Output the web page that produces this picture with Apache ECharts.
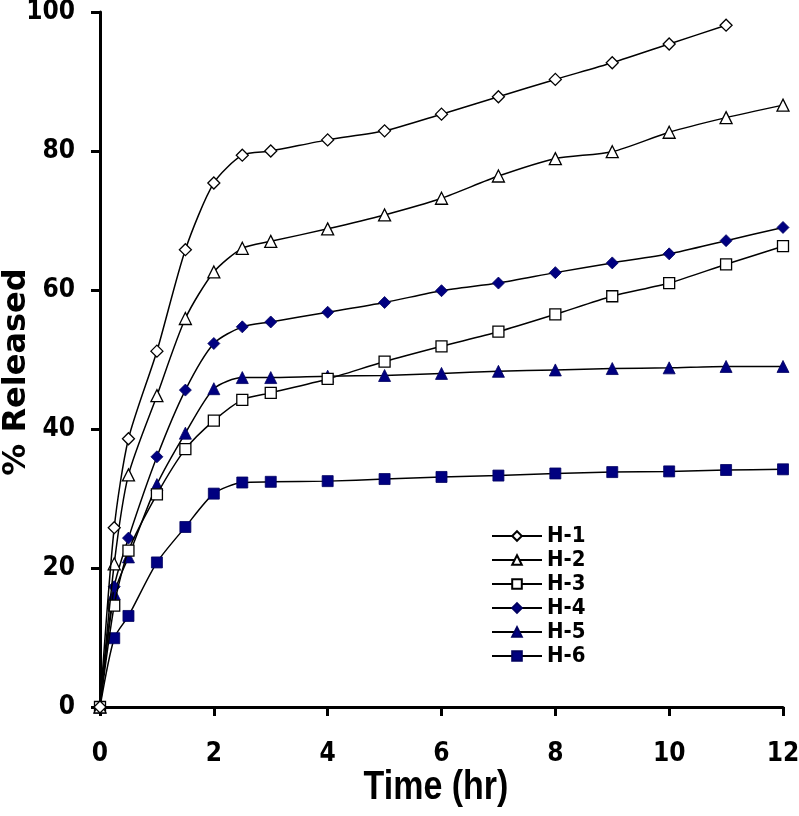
<!DOCTYPE html>
<html><head><meta charset="utf-8">
<script src="https://cdn.jsdelivr.net/npm/echarts@6/dist/echarts.min.js"></script>
<style>html,body{margin:0;padding:0;background:#fff}#c{width:799px;height:816px}</style>
</head><body><div id="c"></div>
<script>
const times = [0, 0.25, 0.5, 1, 1.5, 2, 2.5, 3, 4, 5, 6, 7, 8, 9, 10, 11, 12];
const h1 = [0, 25.8, 38.6, 51.2, 65.8, 75.4, 79.4, 80.0, 81.6, 82.9, 85.3, 87.8, 90.3, 92.7, 95.4, 98.1];
const h2 = [0, 20.6, 33.4, 44.8, 55.9, 62.6, 66.0, 67.0, 68.8, 70.8, 73.2, 76.4, 78.9, 79.9, 82.7, 84.8, 86.6];
const h3 = [0, 14.6, 22.5, 30.6, 37.1, 41.2, 44.2, 45.2, 47.2, 49.7, 51.9, 54.0, 56.5, 59.1, 61.0, 63.7, 66.3];
const h4 = [0, 17.3, 24.3, 36.0, 45.6, 52.3, 54.7, 55.4, 56.8, 58.2, 59.9, 61.0, 62.5, 63.9, 65.2, 67.1, 69.0];
const h5 = [0, 16.3, 21.6, 32.0, 39.4, 45.8, 47.4, 47.4, 47.6, 47.7, 48.0, 48.3, 48.5, 48.7, 48.8, 49.0, 49.0];
const h6 = [0, 9.9, 13.1, 20.8, 25.9, 30.7, 32.3, 32.4, 32.5, 32.8, 33.1, 33.3, 33.6, 33.8, 33.9, 34.1, 34.2];
const names = ['H-1', 'H-2', 'H-3', 'H-4', 'H-5', 'H-6'];
const xTicks = [0, 2, 4, 6, 8, 10, 12];
const yTicks = [0, 20, 40, 60, 80, 100];
const xTitle = 'Time (hr)';
const yTitle = '% Released';

const seriesData = [h1, h2, h3, h4, h5, h6];
const symbols = ['diamond', 'triangle', 'rect', 'diamond', 'triangle', 'rect'];
const fills = ['#ffffff', '#ffffff', '#ffffff', '#000080', '#000080', '#000080'];
const sizes = [12, 12, 11, 12, 12, 11];
const font = '"DejaVu Sans Condensed", "Liberation Sans", Arial, sans-serif';

const chart = echarts.init(document.getElementById('c'));
chart.setOption({
  animation: false,
  backgroundColor: '#fff',
  grid: { left: 100, right: 16, top: 12, bottom: 109, outerBoundsMode: 'none' },
  legend: {
    orient: 'vertical',
    left: 486, top: 520,
    itemWidth: 50, itemHeight: 12, itemGap: 2,
    data: names,
    textStyle: { fontFamily: font, fontWeight: 'bold', fontSize: 22, lineHeight: 22, color: '#000' }
  },
  xAxis: {
    type: 'value', min: 0, max: 12, interval: 2,
    axisLine: { lineStyle: { color: '#000', width: 3 } },
    axisTick: { inside: false, length: 9, lineStyle: { color: '#000', width: 3 } },
    splitLine: { show: false },
    axisLabel: { margin: 34, fontFamily: font, fontWeight: 'bold', fontSize: 26, color: '#000',
      formatter: v => xTicks.includes(v) ? String(v) : '' }
  },
  yAxis: {
    type: 'value', min: 0, max: 100, interval: 20,
    axisLine: { show: true, lineStyle: { color: '#000', width: 3 } },
    axisTick: { show: true, length: 9, lineStyle: { color: '#000', width: 3 } },
    splitLine: { show: false },
    axisLabel: { margin: 25, fontFamily: font, fontWeight: 'bold', fontSize: 26, color: '#000',
      formatter: v => yTicks.includes(v) ? String(v) : '' }
  },
  graphic: [
    { type: 'text', x: 436, y: 788, scaleX: 0.85, scaleY: 1,
      style: { text: xTitle, fontFamily: '"Liberation Sans", Arial, sans-serif', fontWeight: 'bold', fontSize: 40,
        fill: '#000', align: 'center', verticalAlign: 'middle' } },
    { type: 'text', x: 17, y: 372, rotation: Math.PI / 2,
      style: { text: yTitle, fontFamily: '"DejaVu Sans", sans-serif', fontWeight: 'bold', fontSize: 32,
        fill: '#000', align: 'center', verticalAlign: 'middle' } }
  ],
  series: names.map((n, i) => ({
    name: n,
    type: 'line',
    smooth: 0.25,
    data: seriesData[i].map((v, j) => [times[j], v]),
    symbol: symbols[i],
    symbolSize: sizes[i],
    showAllSymbol: true,
    lineStyle: { color: '#000', width: 1.5 },
    itemStyle: { color: fills[i], borderColor: i < 3 ? '#000' : '#000060', borderWidth: i < 3 ? 1.3 : 0.8 },
    z: 10 - i
  }))
});
</script></body></html>
